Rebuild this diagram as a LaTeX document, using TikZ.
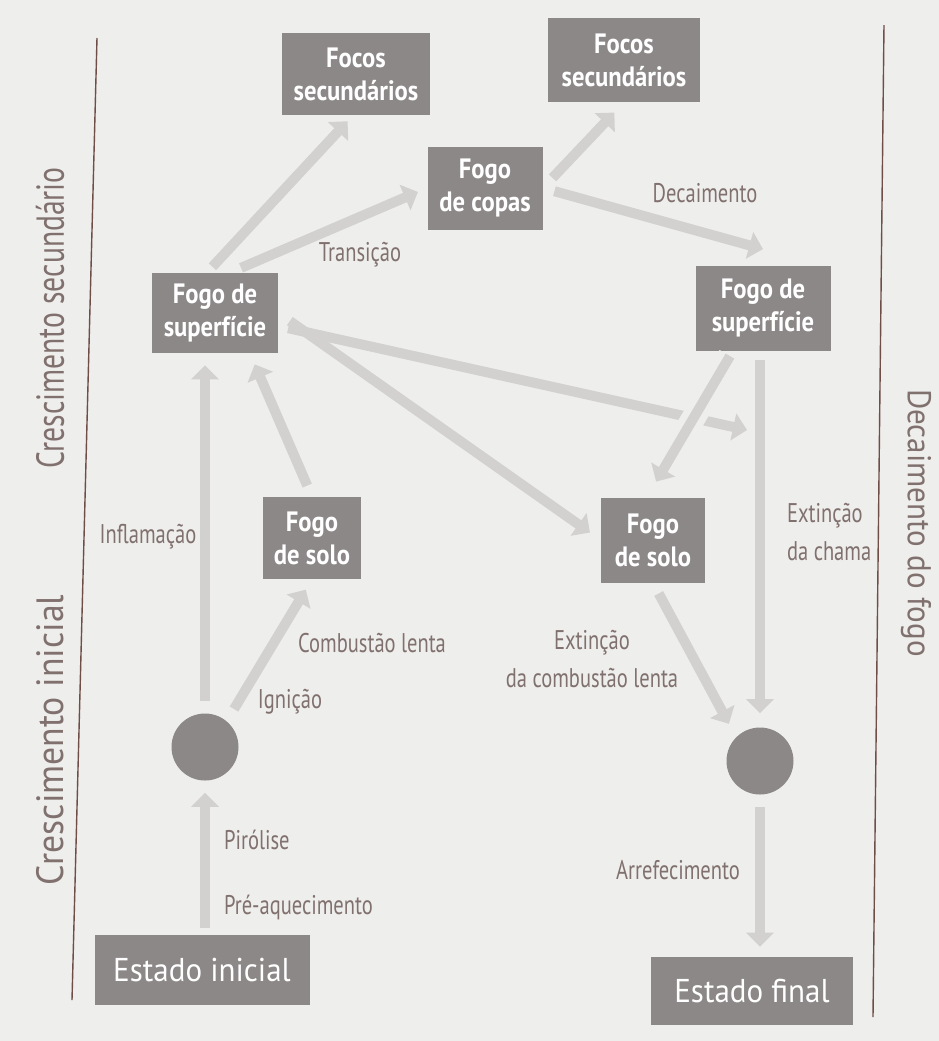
\documentclass[tikz,border=0pt]{standalone}
\usepackage{fontspec}
\setmainfont{PT Sans}
\newfontfamily\condfont[FakeStretch=0.76]{PT Sans}
\newfontfamily\boxfont[FakeStretch=0.88]{PT Sans}
\newfontfamily\regfont[FakeStretch=0.94]{PT Sans}
\usetikzlibrary{arrows.meta}
\definecolor{pagebg}{RGB}{238,238,236}
\definecolor{boxgray}{RGB}{141,136,136}
\definecolor{arrowgray}{RGB}{210,209,208}
\definecolor{labelbrown}{RGB}{128,112,110}
\definecolor{rulebrown}{RGB}{112,78,72}
\tikzset{
  stage/.style={fill=boxgray, text=white, inner sep=0pt, align=center,
    font=\boxfont\bfseries\fontsize{14}{16.5}\selectfont},
  endstate/.style={fill=boxgray, text=white, inner sep=0pt,
    font=\regfont\fontsize{16.5}{19}\selectfont},
  statedot/.style={circle, fill=boxgray, inner sep=0pt, minimum size=33.5pt},
  flow/.style={draw=arrowgray, line width=5pt, -{Triangle[width=13.5pt,length=7pt]}},
  lbl/.style={text=labelbrown, font=\condfont\fontsize{13.5}{19}\selectfont, align=center},
  phase/.style={text=labelbrown, font=\regfont\fontsize{16.5}{19}\selectfont},
  crossgap/.style={preaction={draw=pagebg, line width=12pt, -}},
}
\begin{document}
\begin{tikzpicture}[x=0.5pt, y=-0.5pt]
  \fill[pagebg] (0,0) rectangle (939,1041);
  \useasboundingbox (0,0) rectangle (939,1041);

  \draw[rulebrown, line width=0.7pt] (97,38) -- (72,1000);
  \draw[rulebrown, line width=0.7pt] (884,25) -- (873,1017);
  \node[phase, font=\condfont\fontsize{19.5}{22}\selectfont, rotate=90] (growB) at (50,318) {Crescimento secundário};
  \node[phase, font=\regfont\fontsize{19}{22}\selectfont, rotate=90] (growA) at (50,740) {Crescimento inicial};
  \node[phase, rotate=-90] (decay) at (916,523) {Decaimento do fogo};

  \node[stage, minimum width=74pt, minimum height=41pt] (focA) at (356,74) {Focos\\secundários};
  \node[stage, minimum width=76pt, minimum height=42pt] (focB) at (624,60) {Focos\\secundários};
  \node[stage, minimum width=57.5pt, minimum height=41.5pt] (copas) at (485,188) {Fogo\\de copas};
  \node[stage, minimum width=63pt, minimum height=40pt] (supL) at (215,313) {Fogo de\\superfície};
  \node[stage, minimum width=67.5pt, minimum height=42.5pt] (supR) at (763,308) {Fogo de\\superfície};
  \node[stage, minimum width=49pt, minimum height=41pt] (soloL) at (312,538) {Fogo\\de solo};
  \node[stage, minimum width=52pt, minimum height=42.5pt] (soloR) at (653,540) {Fogo\\de solo};
  \node[statedot] (circL) at (205,747) {};
  \node[statedot] (circR) at (760,761) {};
  \node[endstate, minimum width=107.5pt, minimum height=35pt] (iniState) at (202,970) {Estado inicial};
  \node[endstate, minimum width=101pt, minimum height=34pt] (finState) at (752,991) {Estado final};
  \coordinate (fade) at (747,430);

  \draw[flow, shorten <=3.5pt, shorten >=6pt] (circL |- iniState.north) -- (circL.south);
  \draw[flow, shorten <=6pt, shorten >=6pt] (circL.north) -- (circL |- supL.south);
  \draw[flow, shorten <=7pt, shorten >=6pt] (circL.50) -- (soloL.south);
  \draw[flow, shorten <=6pt, shorten >=6pt] (soloL.north) -- ([xshift=17.5pt]supL.south);
  \draw[flow, shorten <=4pt, shorten >=4pt] ([xshift=-4pt]supL.north) -- ([xshift=-1.5pt]focA.south);
  \draw[flow, shorten <=6pt, shorten >=5pt] ([xshift=7.5pt]supL.north) -- (copas.west);
  \draw[flow, shorten <=7pt, shorten >=7pt] (copas.east) -- (focB.south);
  \draw[flow, shorten <=6pt] (copas.east) -- ([yshift=8pt]supR.north);
  \draw[flow, shorten <=7pt, shorten >=6.5pt] (supL.east) -- (soloR.west);
  \draw[flow, shorten <=5pt] ([yshift=-6.5pt]supL.east) -- (fade);
  \draw[flow, crossgap, shorten <=3pt, shorten >=9pt] ([xshift=-15pt]supR.south) -- ([xshift=-3pt]soloR.north);
  \draw[flow, shorten <=4.5pt, shorten >=7pt] (circR |- supR.south) -- (circR.north);
  \draw[flow, shorten <=6pt, shorten >=7.5pt] (soloR.south) -- (circR.135);
  \draw[flow, shorten <=6pt, shorten >=5pt] (circR.south) -- (circR |- finState.north);

  \node[lbl] (transLbl) at (360,255) {Transição};
  \node[lbl] (decLbl) at (705,193) {Decaimento};
  \node[lbl] (inflLbl) at (148,537) {Inflamação};
  \node[lbl] (combLbl) at (372,643) {Combustão lenta};
  \node[lbl] (ignLbl) at (290,702) {Ignição};
  \node[lbl, anchor=west, align=left] (chamaLbl) at (780,532) {Extinção\\da chama};
  \node[lbl] (extLbl) at (592,659) {Extinção\\da combustão lenta};
  \node[lbl, anchor=west] (pirLbl) at (217,840) {Pirólise};
  \node[lbl, anchor=west] (preLbl) at (217,907) {Pré-aquecimento};
  \node[lbl] (arrLbl) at (678,870) {Arrefecimento};
\end{tikzpicture}
\end{document}
